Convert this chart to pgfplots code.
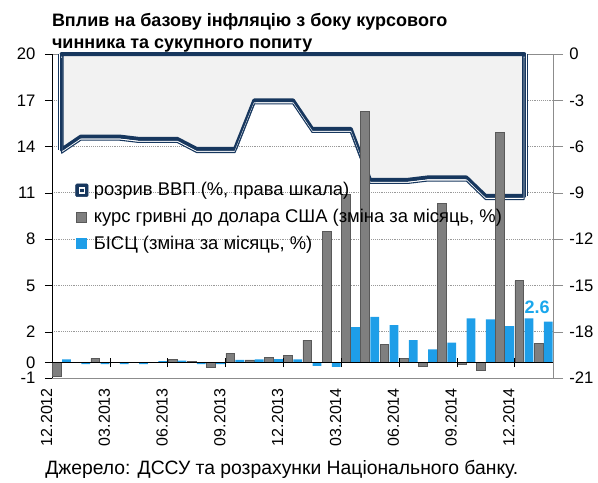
\documentclass[border=0pt]{standalone}
\usepackage{fontspec}
\setmainfont{Liberation Sans}
\usepackage{pgfplots}
\usepackage{pgfplotstable}
\pgfplotsset{compat=1.18}
\definecolor{navy}{HTML}{17375E}
\definecolor{areafill}{HTML}{F2F2F2}
\definecolor{barg}{HTML}{7F7F7F}
\definecolor{bargedge}{HTML}{595959}
\definecolor{barb}{HTML}{1E9EE8}
\definecolor{lblblue}{HTML}{1AA7EC}
\definecolor{axgray}{HTML}{8C8C8C}

\pgfplotstableread{
x gap
0 0
0 -6.2
1 -5.35
2 -5.35
3 -5.35
4 -5.5
5 -5.5
6 -5.5
7 -6.15
8 -6.15
9 -6.15
10 -3.0
11 -3.0
12 -3.0
13 -4.85
14 -4.85
15 -4.85
16 -8.15
17 -8.15
18 -8.15
19 -8.0
20 -8.0
21 -8.0
22 -9.2
23 -9.2
24 -9.2
24 0
}\gaptable

\pgfplotstableread{
x kurs bisc
0 -0.9 0.2
1 0.02 -0.1
2 0.28 -0.1
3 0.03 -0.1
4 0.03 -0.1
5 0.02 0.1
6 0.2 0.12
7 0.05 -0.1
8 -0.3 -0.1
9 0.6 0.17
10 0.17 0.2
11 0.32 0.22
12 0.45 0.2
13 1.46 -0.22
14 8.48 -0.28
15 10.92 2.29
16 16.3 2.97
17 1.2 2.43
18 0.28 1.46
19 -0.27 0.86
20 10.32 1.29
21 -0.1 2.87
22 -0.52 2.8
23 14.9 2.37
24 5.3 2.87
25 1.25 2.65
}\bartable

\begin{document}
\begin{tikzpicture}
\path[use as bounding box] (0,0) rectangle (448.5pt,-361.5pt);
\pgfplotsset{base/.style={scale only axis, width=375.75pt, height=243pt,
  at={(39pt,-283.5pt)}, anchor=south west, xmin=-0.5, xmax=25.5}}
% ---------- right axis: GDP gap area ----------
\begin{axis}[base, ymin=-21, ymax=0, clip=false,
  axis line style={axgray},
  ytick={-21,-18,...,0}, yticklabels={-21,-18,-15,-12,-9,-6,-3,0},
  ytick pos=right, yticklabel pos=right,
  xtick={-0.5,2.5,...,23.5},
  xticklabels={12.2012,03.2013,06.2013,09.2013,12.2013,03.2014,06.2014,09.2014,12.2014},
  xtick pos=bottom,
  major x tick style={draw=none},
  tick align=outside, major tick length=7.5pt,
  major y tick style={axgray},
  ymajorgrids, major grid style={densely dotted, gray!80, line width=0.6pt},
  tick label style={font=\fontsize{12.5}{14}\selectfont},
  xticklabel style={rotate=90, anchor=base east, inner sep=0pt, font=\fontsize{12}{14}\selectfont},
  yticklabel style={anchor=west, inner sep=0pt, xshift=4.5pt},
]
\addplot[fill=areafill, draw=navy, line width=3pt, line join=round] table[x=x,y=gap] {\gaptable} -- cycle;
\addplot[white, line width=0.8pt, line join=round, yshift=-1.9pt] table[x=x,y=gap] {\gaptable};
\addplot[navy, line width=0.8pt, line join=round, yshift=-2.7pt] table[x=x,y=gap] {\gaptable};
\addplot[white, line width=0.8pt, xshift=-1.9pt] coordinates {(0,0) (0,-6.2)};
\addplot[navy, line width=0.8pt, xshift=-2.7pt] coordinates {(0,0) (0,-6.2)};
\addplot[white, line width=0.8pt, xshift=1.9pt] coordinates {(24,-9.2) (24,0)};
\addplot[navy, line width=0.8pt, xshift=2.7pt] coordinates {(24,-9.2) (24,0)};
\end{axis}
% ---------- left axis: bars ----------
\begin{axis}[base, ymin=-1, ymax=20,
  axis x line=none, axis y line=left, axis line style={black,-},
  every outer y axis line/.append style={-},
  ytick={-1,0,2,5,8,11,14,17,20},
  yticklabels={-1,0,2,5,8,11,14,17,20},
  tick align=outside, major tick length=5.25pt, major y tick style={black},
  yticklabel style={anchor=east, inner sep=0pt, xshift=-7pt, font=\fontsize{12.5}{14}\selectfont},
  ybar=0.6pt, bar width=6.6pt,
  legend cell align=left,
  legend style={at={(0.0459,0.612)}, anchor=north west, draw=none, fill=none,
    inner sep=0pt, row sep=4.5pt, font=\fontsize{13.8}{15}\selectfont,
    /tikz/every odd column/.style={column sep=2pt}},
]
\addlegendimage{legend image code/.code={
  \fill[navy, rounded corners=1pt] (0pt,-4.75pt) rectangle (9.5pt,4.75pt);
  \draw[white, line width=0.6pt, fill=areafill] (2.6pt,-2.15pt) rectangle (6.9pt,2.15pt);
  \fill[navy] (3.9pt,-0.85pt) rectangle (5.6pt,0.85pt);}}
\addlegendentry{розрив ВВП (\%, права шкала)}
\addplot[fill=barg, draw=bargedge, line width=0.5pt,
  legend image code/.code={\draw[bargedge, fill=barg, line width=0.6pt] (0.75pt,-3.75pt) rectangle (8.25pt,3.75pt);}]
  table[x=x,y=kurs] {\bartable};
\addlegendentry{курс гривні до долара США (зміна за місяць, \%)}
\addplot[fill=barb, draw=none,
  legend image code/.code={\fill[barb] (0.5pt,-4pt) rectangle (8.75pt,4pt);}]
  table[x=x,y=bisc] {\bartable};
\addlegendentry{БІСЦ (зміна за місяць, \%)}
\node[font=\bfseries\fontsize{13.5}{15}\selectfont, text=lblblue, anchor=base]
  at (axis cs:25,2.65) [xshift=-4.6pt, yshift=6.5pt] {2.6};
\end{axis}
% ---------- zero line with category ticks ----------
\begin{axis}[base, ymin=-1, ymax=20,
  axis x line=middle, axis y line=none,
  axis line style={black,-}, every inner x axis line/.append style={-},
  xtick={2.5,5.5,...,23.5}, xticklabels={},
  tick align=center, major tick length=6.75pt, major x tick style={black},
]
\end{axis}
% ---------- title and source ----------
\node[anchor=base west, font=\bfseries\fontsize{13.5}{16}\selectfont, inner sep=0pt]
  at (38.8pt,-20pt) {Вплив на базову інфляцію з боку курсового};
\node[anchor=base west, font=\bfseries\fontsize{13.5}{16}\selectfont, inner sep=0pt]
  at (38.8pt,-36.2pt) {чинника та сукупного попиту};
\node[anchor=base west, font=\fontsize{14.5}{16}\selectfont, inner sep=0pt]
  at (33.75pt,-356pt) {Джерело: ДССУ та розрахунки Національного банку.};
\end{tikzpicture}
\end{document}
